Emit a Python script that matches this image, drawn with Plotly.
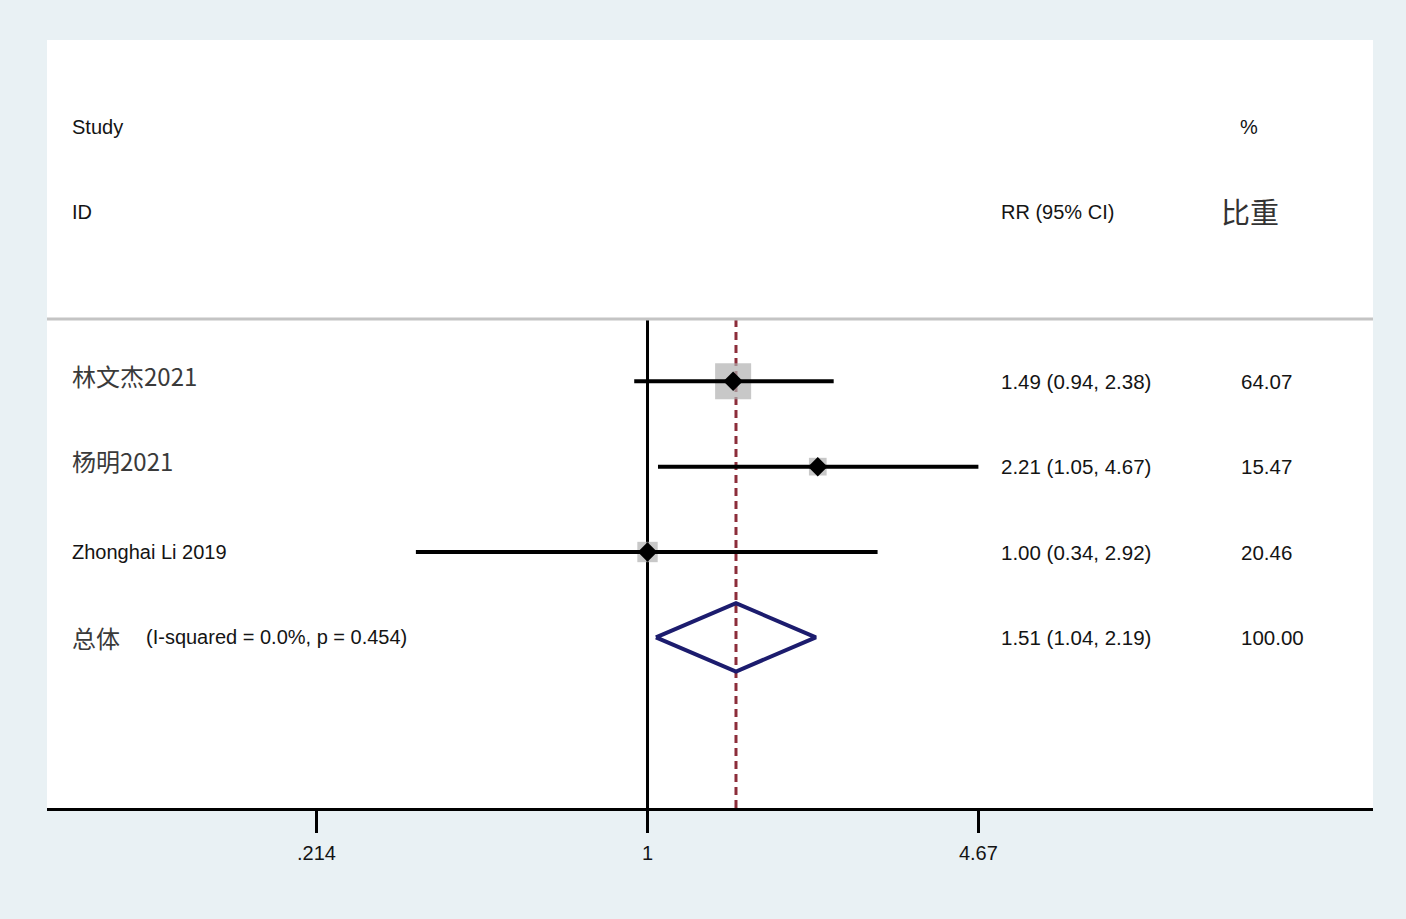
import plotly.graph_objects as go

# study-level data
studies = ["林文杰2021", "杨明2021", "Zhonghai Li 2019"]
rr = [1.49, 2.21, 1.00]
ci_low = [0.94, 1.05, 0.34]
ci_high = [2.38, 4.67, 2.92]
weights = [64.07, 15.47, 20.46]

# pooled estimate
pooled_label = "总体"
pooled_note = "(I-squared = 0.0%, p = 0.454)"
pooled_rr = 1.51
pooled_low = 1.04
pooled_high = 2.19
pooled_weight = 100.00

tick_vals = [0.214, 1, 4.67]
tick_text = [".214", "1", "4.67"]

LATIN = "Liberation Sans, Arial, sans-serif"
CJK = "Noto Sans CJK SC, sans-serif"
TXT = "#141414"

fig = go.Figure()

rows = list(range(len(studies)))
pooled_row = len(studies)

# weight boxes
fig.add_trace(go.Scatter(
    x=rr, y=rows, mode="markers",
    marker=dict(symbol="square", color="#b0b0b0",
                size=[4.5 * w ** 0.5 for w in weights], line=dict(width=0)),
    hoverinfo="skip", showlegend=False,
))

# confidence intervals
for i in rows:
    fig.add_trace(go.Scatter(
        x=[ci_low[i], ci_high[i]], y=[i, i], mode="lines",
        line=dict(color="black", width=4),
        hoverinfo="skip", showlegend=False,
    ))

# point estimates
fig.add_trace(go.Scatter(
    x=rr, y=rows, mode="markers",
    marker=dict(symbol="diamond", color="black", size=15),
    hoverinfo="skip", showlegend=False,
))

# pooled diamond
h = 0.4
fig.add_trace(go.Scatter(
    x=[pooled_low, pooled_rr, pooled_high, pooled_rr, pooled_low],
    y=[pooled_row, pooled_row - h, pooled_row, pooled_row + h, pooled_row],
    mode="lines", line=dict(color="#1c1c6e", width=4),
    hoverinfo="skip", showlegend=False,
))

sep_y = -0.73
y_bottom = 5

# null line and pooled line
fig.add_shape(type="line", xref="x", yref="y", x0=1, x1=1, y0=sep_y, y1=y_bottom,
              line=dict(color="black", width=3), layer="below")
fig.add_shape(type="line", xref="x", yref="y", x0=pooled_rr, x1=pooled_rr,
              y0=sep_y, y1=y_bottom,
              line=dict(color="#8c2d3a", width=3, dash="8px,5px"), layer="below")
# header separator
fig.add_shape(type="line", xref="paper", yref="y", x0=0, x1=1, y0=sep_y, y1=sep_y,
              line=dict(color="#c4c4c4", width=3))

col_study = 0.0174
col_rr = 0.7180
col_w = 0.8990


def note(x, y, text, size=20, family=LATIN, color=TXT, anchor="left", yshift=0):
    fig.add_annotation(x=x, y=y, xref="paper", yref="y", text=text, showarrow=False,
                       xanchor=anchor, yanchor="middle", yshift=yshift,
                       font=dict(size=size, family=family, color=color))


# headers
note(col_study, -3, "Study", yshift=-2)
note(col_study, -2, "ID", yshift=-1)
note(col_rr, -2, "RR (95% CI)", yshift=-1)
note(0.9065, -3, "%", anchor="center", yshift=-2)
note(0.9072, -2, "比重", size=29, family=CJK, color="#333333", anchor="center")

# study rows
for i, name in enumerate(studies):
    if any(ord(c) > 127 for c in name):
        note(col_study, i, name, size=24, family=CJK, color="#3a3a3a", yshift=6)
    else:
        note(col_study, i, name)
    note(col_rr, i, f"{rr[i]:.2f} ({ci_low[i]:.2f}, {ci_high[i]:.2f})", size=20.5)
    note(col_w, i, f"{weights[i]:.2f}", size=20.5)

# pooled row
note(col_study, pooled_row, pooled_label, size=24, family=CJK, color="#3a3a3a")
note(0.0728, pooled_row, pooled_note)
note(col_rr, pooled_row, f"{pooled_rr:.2f} ({pooled_low:.2f}, {pooled_high:.2f})", size=20.5)
note(col_w, pooled_row, f"{pooled_weight:.2f}", size=20.5)

fig.update_layout(
    width=1406, height=919,
    margin=dict(l=47, r=33, t=40, b=111),
    paper_bgcolor="#e9f1f4",
    plot_bgcolor="white",
    showlegend=False,
    xaxis=dict(
        type="log", range=[-1.2147, 1.4675],
        tickvals=tick_vals, ticktext=tick_text,
        ticks="outside", ticklen=22, tickwidth=3, tickcolor="black",
        ticklabelstandoff=3,
        showline=True, linecolor="black", linewidth=3,
        showgrid=False, zeroline=False,
        tickfont=dict(size=20, family=LATIN, color=TXT),
    ),
    yaxis=dict(
        range=[y_bottom, -4], showgrid=False, zeroline=False,
        showticklabels=False, showline=False, ticks="",
    ),
)

fig.write_html("out.html", config={"displayModeBar": False},
               post_script="document.body.style.margin='0';")
